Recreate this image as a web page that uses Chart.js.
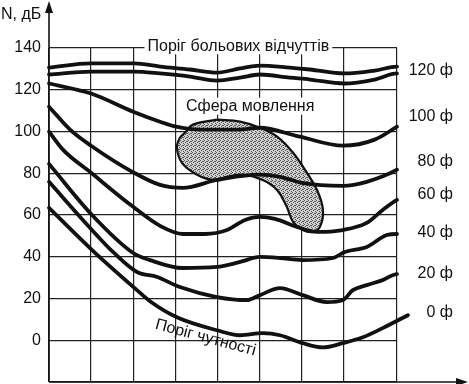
<!DOCTYPE html>
<html>
<head>
<meta charset="utf-8">
<script src="https://cdn.jsdelivr.net/npm/chart.js@4"></script>
<style>html,body{margin:0;background:#fff}</style>
</head>
<body>
<canvas id="c" width="469" height="384"></canvas>
<script>
// положення вертикальних ліній сітки (частотна вісь без підписів)
const xGrid = [0, 1, 2, 3, 4, 5, 6, 7, 8.27];

// поріг больових відчуттів (дві лінії, 120 фон)
const painX = [0, 1.0, 2.02, 2.64, 3.35, 3.99, 4.54, 5.01, 5.72, 6.2, 7.01, 7.74, 8.27, 8.48];
const painHiY = [130.6, 132.6, 132.6, 131.1, 129.7, 128.2, 130.2, 131.6, 130.6, 129.7, 127.8, 129.2, 131.1, 131.1];
const painLoY = [127.3, 128.7, 128.7, 127.8, 126.3, 124.4, 125.8, 127.3, 125.8, 124.9, 123.0, 124.9, 127.8, 127.8];

const phon100X = [0, 1.0, 2.0, 2.64, 3.02, 3.6, 4.5, 5.0, 5.96, 6.98, 7.74, 8.27, 8.48];
const phon100Y = [123.0, 118.2, 109.5, 104.7, 102.3, 100.9, 100.9, 101.8, 97.5, 93.2, 96.1, 102.3, 104.7];

const phon80X = [0, 0.5, 1.0, 1.98, 2.64, 3.18, 3.99, 5.01, 5.49, 6.01, 6.98, 7.55, 8.27, 8.53];
const phon80Y = [111.9, 100.9, 93.2, 80.7, 74.4, 73.0, 76.8, 79.3, 78.3, 75.4, 74.0, 75.9, 81.7, 85.5];

const phon60X = [0, 0.33, 1.0, 2.0, 2.64, 3.18, 3.71, 4.23, 4.66, 5.01, 5.37, 5.89, 6.37, 6.98, 7.55, 7.93, 8.27, 8.53];
const phon60Y = [99.9, 91.3, 80.2, 63.9, 54.8, 50.9, 50.9, 52.8, 57.6, 59.1, 58.1, 54.3, 51.9, 52.8, 56.2, 62.4, 67.2, 69.6];

const phon40X = [0, 1.0, 2.0, 2.4, 3.18, 3.99, 4.54, 5.01, 5.49, 6.01, 6.75, 7.03, 7.55, 8.03, 8.27, 8.5];
const phon40Y = [84.5, 60.5, 41.8, 38.4, 34.6, 35.1, 37.5, 39.9, 39.4, 38.4, 39.4, 42.3, 44.7, 50.4, 50.9, 50.9];

const phon20X = [0, 1.0, 1.52, 2.09, 2.57, 3.11, 3.99, 4.7, 5.01, 5.49, 6.03, 6.6, 6.98, 7.22, 7.55, 7.93, 8.27, 8.5];
const phon20Y = [75.9, 53.3, 42.3, 32.7, 30.3, 25.5, 20.7, 19.2, 21.6, 25.0, 21.6, 18.3, 19.2, 24.0, 26.4, 28.8, 31.7, 31.7];

// поріг чутності (0 фон)
const phon0X = [0, 1.05, 2.09, 2.4, 3.04, 3.99, 4.54, 5.08, 5.49, 6.03, 6.51, 6.98, 7.46, 7.93, 8.53];
const phon0Y = [63.4, 42.7, 24.0, 18.7, 11.0, 4.8, 2.4, 3.4, 2.4, -1.4, -3.4, -1.4, 1.4, 5.8, 12.0];

// контур сфери мовлення
const speechX = [3.99, 4.54, 5.01, 5.42, 5.80, 6.13, 6.37, 6.51, 6.44, 6.27, 6.03, 5.80, 5.65, 5.42, 5.08, 4.61, 4.23, 3.90, 3.52, 3.16, 3.04, 3.11, 3.23, 3.42, 3.99];
const speechY = [105.7, 104.7, 101.8, 97.5, 89.8, 80.2, 72.0, 62.4, 54.3, 51.9, 52.8, 56.7, 63.9, 72.0, 76.8, 79.3, 78.3, 76.8, 79.3, 85.0, 92.2, 97.0, 99.4, 103.3, 105.7];

const phonLabels = ['120 ф', '100 ф', '80 ф', '60 ф', '40 ф', '20 ф', '0 ф'];
const yTitle = 'N, дБ';
const painText = 'Поріг больових відчуттів';
const speechText = 'Сфера мовлення';
const hearText = 'Поріг чутності';

const FONT = '"Liberation Sans", Arial, sans-serif';
const INK = '#111';

const pts = (xs, ys) => xs.map((x, i) => ({ x: x, y: ys[i] }));

// крапчаста заливка
const pc = document.createElement('canvas');
pc.width = 4; pc.height = 4;
const pctx = pc.getContext('2d');
pctx.fillStyle = '#d0d0d0';
pctx.fillRect(0, 0, 4, 4);
pctx.fillStyle = '#555';
[[0, 0], [2, 1], [1, 2], [3, 3], [3, 1]].forEach(p => pctx.fillRect(p[0], p[1], 1, 1));
const dots = pctx.createPattern(pc, 'repeat');

const curve = (xs, ys) => ({
  data: pts(xs, ys),
  borderColor: INK,
  borderWidth: 3.8,
  borderCapStyle: 'round',
  borderJoinStyle: 'round',
  pointRadius: 0,
  fill: false,
  cubicInterpolationMode: 'monotone',
  clip: false,
  order: 0,
});

const curves = [
  [painX, painHiY], [painX, painLoY], [phon100X, phon100Y], [phon80X, phon80Y],
  [phon60X, phon60Y], [phon40X, phon40Y], [phon20X, phon20Y], [phon0X, phon0Y],
];

const textBox = (ctx, text, cx, cy) => {
  const w = ctx.measureText(text).width;
  ctx.fillStyle = '#fff';
  ctx.fillRect(cx - w / 2 - 3, cy - 9, w + 6, 17);
  ctx.fillStyle = INK;
  ctx.fillText(text, cx, cy);
};

const extras = {
  id: 'extras',
  beforeDatasetsDraw(chart) {
    const { ctx, scales: { x, y } } = chart;
    ctx.save();
    ctx.font = '16px ' + FONT;
    ctx.textAlign = 'center';
    ctx.textBaseline = 'middle';
    textBox(ctx, painText, x.getPixelForValue(4.5), y.getPixelForValue(140.8));
    textBox(ctx, speechText, x.getPixelForValue(4.78), y.getPixelForValue(111.9));
    ctx.restore();
  },
  afterDraw(chart) {
    const { ctx, chartArea: a, scales: { x, y } } = chart;
    ctx.save();
    ctx.strokeStyle = INK;
    ctx.fillStyle = INK;
    ctx.lineWidth = 1.6;
    // осі зі стрілками
    ctx.beginPath();
    ctx.moveTo(a.left, a.bottom);
    ctx.lineTo(a.left, 8);
    ctx.moveTo(a.left, a.bottom);
    ctx.lineTo(460, a.bottom);
    ctx.stroke();
    ctx.beginPath();
    ctx.moveTo(a.left, 1);
    ctx.lineTo(a.left - 4, 13);
    ctx.lineTo(a.left + 4, 13);
    ctx.closePath();
    ctx.moveTo(468, a.bottom);
    ctx.lineTo(456, a.bottom - 4);
    ctx.lineTo(456, a.bottom + 4);
    ctx.closePath();
    ctx.fill();

    ctx.font = '16px ' + FONT;
    ctx.textBaseline = 'middle';
    ctx.textAlign = 'left';
    ctx.fillText(yTitle, 1, 15);

    // підписи фонів праворуч
    const ends = curves.map(c => c[1][c[1].length - 1]);
    const levels = [(ends[0] + ends[1]) / 2, ends[2], ends[3], ends[4], ends[5], ends[6], ends[7]];
    const nudge = [1, -5, 0, 0, -1, 0, -3];
    ctx.textAlign = 'right';
    phonLabels.forEach((t, i) => {
      ctx.fillText(t, a.right + 56, y.getPixelForValue(levels[i]) + nudge[i]);
    });

    // поріг чутності — похилий підпис
    ctx.translate(x.getPixelForValue(3.72), y.getPixelForValue(1.2));
    ctx.rotate(15 * Math.PI / 180);
    ctx.textAlign = 'center';
    ctx.fillText(hearText, 0, 0);
    ctx.restore();
  }
};

const datasets = curves.map(c => curve(c[0], c[1]));
datasets.push({
  data: pts(speechX, speechY),
  borderColor: INK,
  borderWidth: 2.2,
  backgroundColor: dots,
  pointRadius: 0,
  fill: 'shape',
  tension: 0.4,
  clip: false,
  order: 5,
});

new Chart(document.getElementById('c'), {
  type: 'line',
  data: { datasets: datasets },
  options: {
    responsive: false,
    animation: false,
    devicePixelRatio: 1,
    layout: { padding: { top: 48, right: 72, bottom: 2, left: 0 } },
    plugins: { legend: { display: false }, tooltip: { enabled: false } },
    scales: {
      x: {
        type: 'linear',
        min: 0,
        max: 8.27,
        afterBuildTicks: s => { s.ticks = xGrid.map(v => ({ value: v })); },
        afterFit: s => { s.height = 0; s.paddingLeft = 0; s.paddingRight = 0; },
        ticks: { display: false },
        grid: { color: '#222', lineWidth: 1.2, drawTicks: false },
        border: { display: false },
      },
      y: {
        min: -20,
        max: 140,
        afterFit: s => { s.width = 49; s.paddingTop = 0; s.paddingBottom = 0; },
        ticks: {
          stepSize: 20,
          padding: 8,
          color: INK,
          font: { size: 16, family: FONT },
          callback: v => (v < 0 ? '' : v),
        },
        grid: { color: '#222', lineWidth: 1.2, drawTicks: false },
        border: { display: false },
      },
    },
  },
  plugins: [extras],
});
</script>
</body>
</html>
